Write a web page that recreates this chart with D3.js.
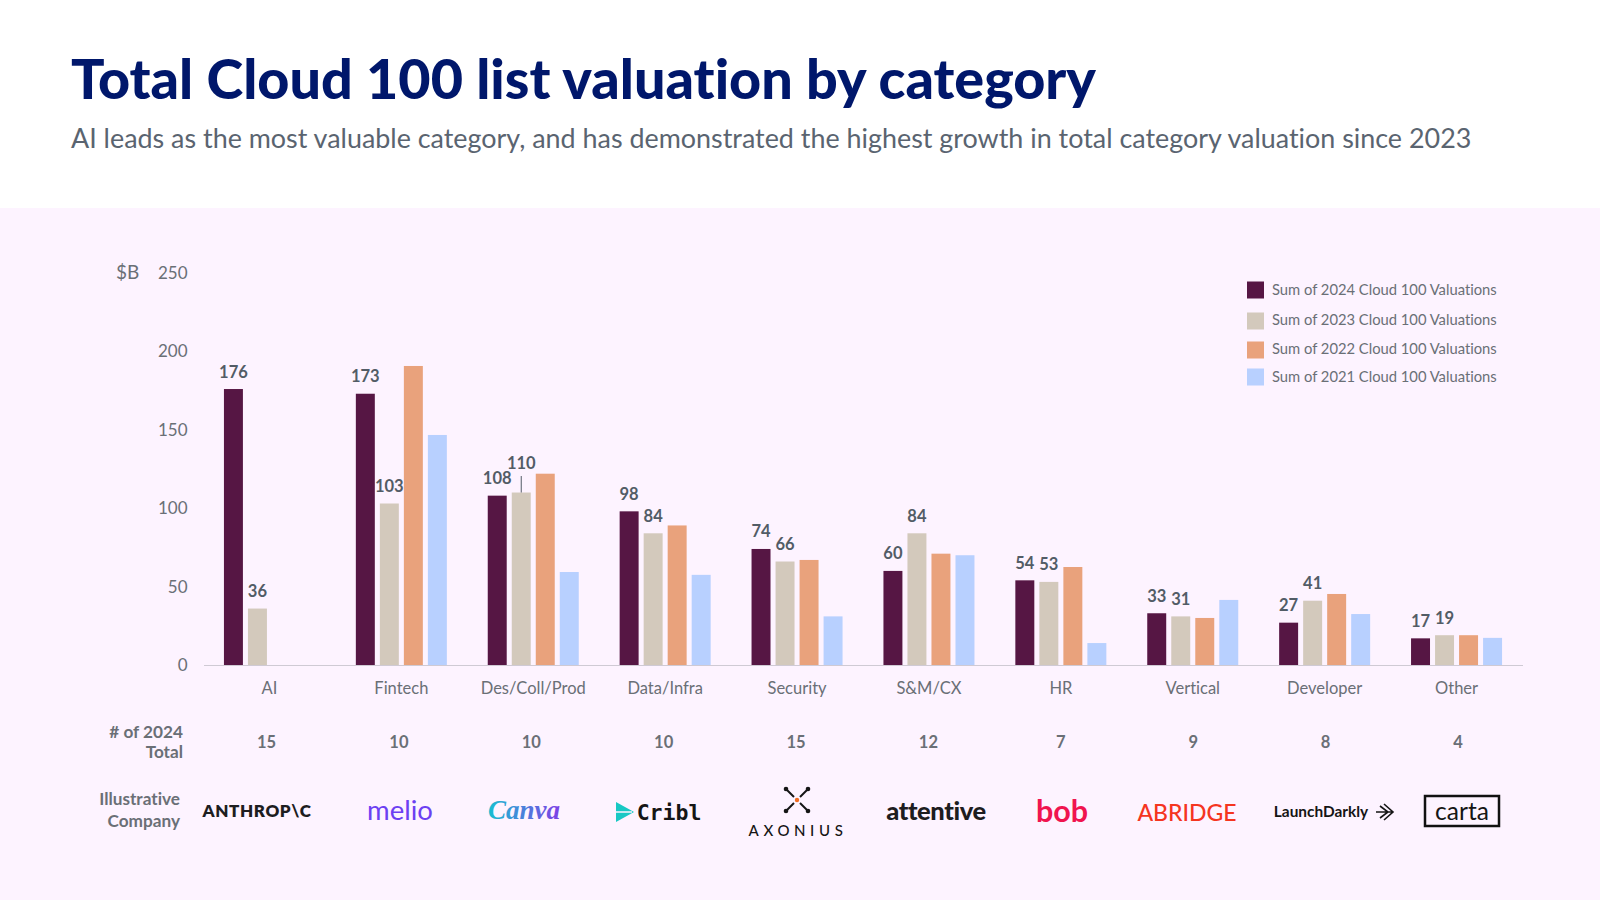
<!DOCTYPE html>
<html><head><meta charset="utf-8">
<script src="https://cdn.jsdelivr.net/npm/d3@7"></script>
<style>
html,body{margin:0;padding:0;background:#fff;width:1600px;height:900px;overflow:hidden}
svg{display:block}
text{font-family:Lato,"Open Sans",sans-serif;font-variant-ligatures:none}
</style></head><body><svg id="c" width="1600" height="900"></svg>
<script>
const categories=["AI","Fintech","Des/Coll/Prod","Data/Infra","Security","S&M/CX","HR","Vertical","Developer","Other"];
const seriesNames=["Sum of 2024 Cloud 100 Valuations","Sum of 2023 Cloud 100 Valuations","Sum of 2022 Cloud 100 Valuations","Sum of 2021 Cloud 100 Valuations"];
const seriesColors=["#561644","#D3C9BC","#E9A27C","#B8D0FF"];
const v2024=[176,173,108,98,74,60,54,33,27,17];
const v2023=[36,103,110,84,66,84,53,31,41,19];
const v2022=[0,190.7,122,89,67,71,62.5,30,45.3,19];
const v2021=[0,146.7,59.3,57.5,31,70,14,41.5,32.5,17.3];
const counts=[15,10,10,10,15,12,7,9,8,4];
const yTicks=[0,50,100,150,200,250];
const logos=["ANTHROP\\C","melio","Canva","Cribl","AXONIUS","attentive","bob","ABRIDGE","LaunchDarkly","carta"];

const svg=d3.select("#c");
const gray="#6a6f76", dark="#525c66";
svg.append("rect").attr("y",208).attr("width",1600).attr("height",692).attr("fill","#FDF3FF");
svg.append("text").attr("x",71).attr("y",98.5).attr("font-size",55.7).attr("font-weight",900).attr("fill","#00176B").text("Total Cloud 100 list valuation by category");
svg.append("text").attr("x",71).attr("y",148).attr("font-size",26.9).attr("fill","#5A6470").text("AI leads as the most valuable category, and has demonstrated the highest growth in total category valuation since 2023");

const x=d3.scaleBand().domain(categories).range([203.5,1522.5]).paddingInner(0.31).paddingOuter(0.155);
const s=d3.scaleBand().domain(d3.range(4)).range([0,x.bandwidth()]).paddingInner(0.21);
const y=d3.scaleLinear().domain([0,250]).range([665,273]);

const yAxis=d3.axisLeft(y).tickValues(yTicks).tickSize(0).tickPadding(0);
const ya=svg.append("g").attr("transform","translate(187.5,0)").call(yAxis);
ya.select(".domain").remove();
ya.selectAll("text").attr("font-size",17).attr("fill",gray).attr("font-family","Lato");
svg.append("text").attr("x",116).attr("y",279).attr("font-size",19).attr("fill",gray).text("$B");

const xAxis=d3.axisBottom(x).tickSize(0).tickPadding(17.5);
const xa=svg.append("g").attr("transform","translate(0,665)").call(xAxis);
xa.select(".domain").attr("stroke","#CFCAD4").attr("stroke-width",1);
xa.selectAll("text").attr("font-size",16.5).attr("fill",gray).attr("font-family","Lato");

const all=[v2024,v2023,v2022,v2021];
const g=svg.append("g");
all.forEach((vals,si)=>{
  g.selectAll(null).data(vals.map((v,i)=>({v,c:categories[i]}))).join("rect")
   .attr("x",d=>x(d.c)+s(si)).attr("width",s.bandwidth())
   .attr("y",d=>y(d.v)).attr("height",d=>y(0)-y(d.v)).attr("fill",seriesColors[si]);
});
[v2024,v2023].forEach((vals,si)=>{
  g.selectAll(null).data(vals.map((v,i)=>({v,c:categories[i]}))).join("text")
   .attr("x",d=>x(d.c)+s(si)+s.bandwidth()/2)
   .attr("y",d=>y(d.v)-11.5-(d.c==="Des/Coll/Prod"&&si===1?12:0))
   .attr("text-anchor","middle").attr("font-size",16.5).attr("font-weight",700).attr("fill",dark).text(d=>d.v);
});
const lx=x("Des/Coll/Prod")+s(1)+s.bandwidth()/2;
g.append("line").attr("x1",lx).attr("x2",lx).attr("y1",y(110)-16.5).attr("y2",y(110)).attr("stroke",dark).attr("stroke-width",1);

seriesNames.forEach((n,i)=>{
  const ly=[290,321,350,377][i], ty=[295,325,354,381.5][i];
  svg.append("rect").attr("x",1247).attr("y",ly-8.5).attr("width",17).attr("height",17).attr("fill",seriesColors[i]);
  svg.append("text").attr("x",1272).attr("y",ty).attr("font-size",14.75).attr("fill",gray).text(n);
});

const rowLab=(t,yy,xx)=>svg.append("text").attr("x",xx).attr("y",yy).attr("text-anchor","end").attr("font-size",17.2).attr("font-weight",700).attr("fill",gray).text(t);
rowLab("# of 2024",738,183);rowLab("Total",758,183);
rowLab("Illustrative",805,180);rowLab("Company",827,180);
const countX=d3.scalePoint().domain(categories).range([266.5,1458]);
svg.selectAll(null).data(counts).join("text")
  .attr("x",(d,i)=>countX(categories[i])).attr("y",748).attr("text-anchor","middle")
  .attr("font-size",16.5).attr("font-weight",700).attr("fill",gray).text(d=>d);

// Wordmark logos
const defs=svg.append("defs");
const lg=defs.append("linearGradient").attr("id","canva");
lg.append("stop").attr("offset","0").attr("stop-color","#18BFD0");
lg.append("stop").attr("offset","1").attr("stop-color","#7D3FE6");
const logoStyle=[
 {x:257,y:817,fs:17,w:800,fill:"#1d1d1f",ff:"Lato",ls:0.6},
 {x:400,y:820,fs:27.5,w:400,fill:"#6C3FF2",ff:"Lato"},
 {x:524,y:819,fs:27,w:700,fill:"url(#canva)",ff:"Liberation Serif",st:"italic"},
 {x:669,y:820,fs:21.5,w:700,fill:"#151515",ff:"DejaVu Sans Mono"},
 {x:798,y:836,fs:15,w:500,fill:"#151515",ff:"Lato",ls:4.6},
 {x:936,y:820,fs:25.5,w:900,fill:"#1d1d1f",ff:"Lato",ls:-0.4},
 {x:1062,y:822,fs:30.5,w:700,fill:"#F0144F",ff:"Lato"},
 {x:1187,y:821,fs:23,w:500,fill:"#F5351F",ff:"Lato"},
 {x:1321,y:817,fs:15.4,w:700,fill:"#151515",ff:"Lato"},
 {x:1462,y:820,fs:24.5,w:400,fill:"#151515",ff:"Lato"}
];
logos.forEach((t,i)=>{
  const o=logoStyle[i];
  svg.append("text").attr("x",o.x).attr("y",o.y).attr("text-anchor","middle")
    .attr("font-size",o.fs).attr("font-weight",o.w).attr("font-style",o.st||"normal")
    .attr("letter-spacing",o.ls||0).attr("fill",o.fill).style("font-family",o.ff).text(t);
});
// Cribl mark
const tri=d3.path();tri.moveTo(616,802);tri.lineTo(634,812);tri.lineTo(616,822);tri.closePath();
svg.append("path").attr("d",tri.toString()).attr("fill","#18C8C4");
svg.append("line").attr("x1",616).attr("x2",632).attr("y1",812).attr("y2",812).attr("stroke","#FDF3FF").attr("stroke-width",1.5);
// Axonius mark
[[-1,-1],[1,-1],[-1,1],[1,1]].forEach(([a,b])=>{
  svg.append("line").attr("x1",797+a*3).attr("y1",800+b*3).attr("x2",797+a*10).attr("y2",800+b*10).attr("stroke","#151515").attr("stroke-width",2);
  svg.append("circle").attr("cx",797+a*11).attr("cy",800+b*11).attr("r",2.3).attr("fill","#151515");
});
svg.append("circle").attr("cx",797).attr("cy",800).attr("r",2.2).attr("fill","#F26B21");
// LaunchDarkly arrow
svg.append("path").attr("d","M1376 812H1392M1384 804L1393 812L1384 820M1380 806L1388 812L1380 818").attr("fill","none").attr("stroke","#151515").attr("stroke-width",1.6);
// carta box
svg.append("rect").attr("x",1425).attr("y",796).attr("width",74).attr("height",30).attr("fill","none").attr("stroke","#111").attr("stroke-width",2.5);
</script></body></html>
